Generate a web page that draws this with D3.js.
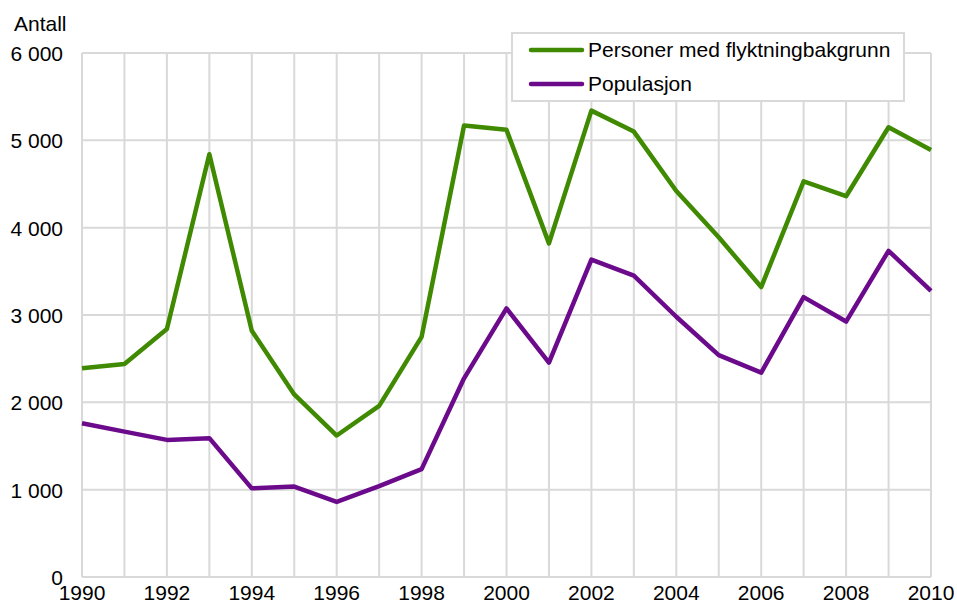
<!DOCTYPE html>
<html>
<head>
<meta charset="utf-8">
<script src="https://cdn.jsdelivr.net/npm/d3@7"></script>
<style>
  body { margin: 0; background: #fff; }
  text { font-family: "Liberation Sans", Arial, sans-serif; fill: #000; }
</style>
</head>
<body>
<svg id="chart" width="957" height="602"></svg>
<script>
const years = d3.range(1990, 2011);
const refugees = [2390, 2440, 2840, 4840, 2820, 2090, 1620, 1960, 2750, 5170, 5120, 3820, 5340, 5100, 4420, 3890, 3320, 4530, 4360, 5150, 4890];
const population = [1760, 1665, 1570, 1590, 1015, 1035, 860, 1040, 1235, 2275, 3075, 2455, 3635, 3450, 2980, 2540, 2340, 3205, 2925, 3735, 3275];
const seriesNames = ['Personer med flyktningbakgrunn', 'Populasjon'];
const seriesColors = ['#3f8a00', '#6c0a8c'];
const yTicks = [0, 1000, 2000, 3000, 4000, 5000, 6000];
const xTicks = d3.range(1990, 2011, 2);

const svg = d3.select('#chart');
const margin = { left: 82, right: 26, top: 53, bottom: 25 };
const width = 957, height = 602;
const fontSize = 21;

const x = d3.scaleLinear().domain([1990, 2010]).range([margin.left, width - margin.right]);
const y = d3.scaleLinear().domain([0, 6000]).range([height - margin.bottom, margin.top]);

// grid
const grid = svg.append('g');
grid.selectAll('.vg').data(years).enter().append('line')
  .attr('x1', (d) => x(d)).attr('x2', (d) => x(d))
  .attr('y1', y(0)).attr('y2', y(6000))
  .attr('stroke', '#d9d9d9').attr('stroke-width', 2);
grid.selectAll('.hg').data(yTicks).enter().append('line')
  .attr('x1', x(1990)).attr('x2', x(2010))
  .attr('y1', (d) => y(d)).attr('y2', (d) => y(d))
  .attr('stroke', '#d9d9d9').attr('stroke-width', 2);

// y labels
svg.selectAll('.ylab').data(yTicks).enter().append('text')
  .attr('x', 63).attr('y', (d) => y(d) + 8)
  .attr('text-anchor', 'end').attr('font-size', fontSize)
  .text((d) => d === 0 ? '0' : d3.format(',')(d).replace(',', ' '));

svg.append('text').attr('x', 14).attr('y', 31).attr('font-size', fontSize).text('Antall');

// x labels
svg.selectAll('.xlab').data(xTicks).enter().append('text')
  .attr('x', (d) => x(d)).attr('y', 600)
  .attr('text-anchor', 'middle').attr('font-size', fontSize)
  .text((d) => d);

// lines
const line = d3.line().x((d, i) => x(years[i])).y((d) => y(d));
[refugees, population].forEach((s, i) => {
  svg.append('path').datum(s)
    .attr('d', line)
    .attr('fill', 'none')
    .attr('stroke', seriesColors[i])
    .attr('stroke-width', 4.5)
    .attr('stroke-linejoin', 'round');
});

// legend
const lg = svg.append('g');
lg.append('rect').attr('x', 512).attr('y', 33).attr('width', 392).attr('height', 68)
  .attr('fill', '#fff').attr('stroke', '#d9d9d9').attr('stroke-width', 2);
seriesNames.forEach((n, i) => {
  const ly = 50 + i * 34;
  lg.append('line').attr('x1', 531).attr('x2', 582).attr('y1', ly).attr('y2', ly)
    .attr('stroke', seriesColors[i]).attr('stroke-width', 4.5).attr('stroke-linecap', 'round');
  lg.append('text').attr('x', 588).attr('y', ly + 7).attr('font-size', fontSize).text(n);
});
</script>
</body>
</html>
